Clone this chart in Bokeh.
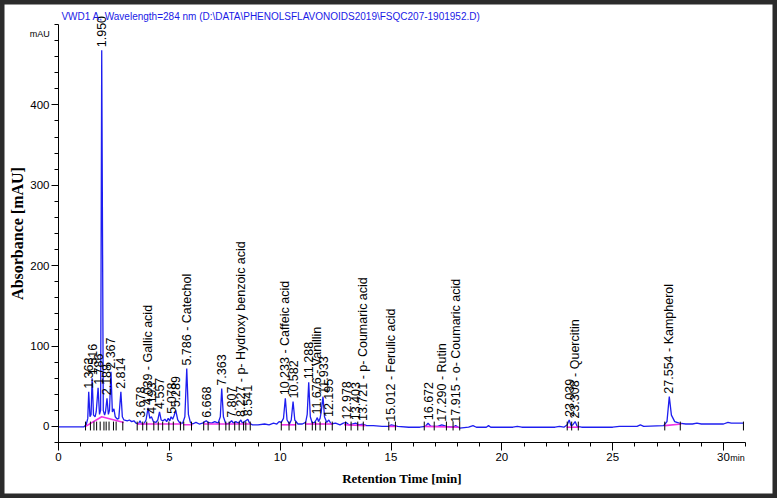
from bokeh.plotting import figure
from bokeh.models import ColumnDataSource, LabelSet, Label, FixedTicker, Range1d, LinearAxis
from bokeh.core.properties import value
from bokeh.embed import file_html
from bokeh.resources import INLINE

# ---- data ----
peak_rt = [1.363, 1.516, 1.786, 1.950, 2.188, 2.367, 2.814, 3.678, 4.039, 4.193,
           4.557, 5.078, 5.289, 5.786, 6.668, 7.363, 7.807, 8.227, 8.541, 10.233,
           10.582, 11.288, 11.676, 11.933, 12.195, 12.978, 13.403, 13.721, 15.012,
           16.672, 17.290, 17.915, 23.039, 23.308, 27.554]
peak_height = [43, 60, 48, 468, 35, 68, 43, 7, 23, 12,
               18, 12, 20, 72, 7, 47, 7, 8, 9, 35,
               31, 55, 11, 37, 8, 5, 4, 3, 2,
               4, 2, 1, 8, 6, 37]
peak_name = ["", "", "", "", "", "", "", "", "Gallic acid", "",
             "", "", "", "Catechol", "", "", "", "p- Hydroxy benzoic acid", "", "Caffeic acid",
             "", "", "Vanillin", "", "", "", "", "p- Coumaric acid", "Ferulic acid",
             "", "Rutin", "o- Coumaric acid", "", "Quercitin", "Kampherol"]

# trace points between the apexes (valleys, shoulders, noise)
valley_t = [0.0, 1.15, 1.25, 1.32, 1.42, 1.47, 1.58, 1.65, 1.70, 1.85, 1.90, 2.02, 2.08, 2.12,
            2.25, 2.30, 2.43, 2.50, 2.56, 2.65, 2.72, 2.88, 2.95, 3.1, 3.2, 3.3, 3.4, 3.5,
            3.6, 3.75, 3.85, 3.95, 4.12, 4.28, 4.40, 4.48, 4.63, 4.72, 4.80, 4.88, 4.95,
            5.02, 5.15, 5.22, 5.38, 5.48, 5.60, 5.70, 5.86, 5.95, 6.05, 6.2, 6.35, 6.5,
            6.6, 6.75, 6.9, 7.05, 7.2, 7.3, 7.44, 7.55, 7.7, 7.9, 8.0, 8.12, 8.3, 8.40,
            8.62, 8.75, 9.0, 9.3, 9.5, 9.7, 9.85, 9.95, 10.05, 10.15, 10.31, 10.42, 10.5,
            10.66, 10.8, 11.0, 11.15, 11.22, 11.36, 11.45, 11.55, 11.62, 11.73, 11.8,
            11.85, 12.0, 12.1, 12.3, 12.5, 12.7, 12.85, 13.1, 13.25, 13.55, 13.9, 14.2,
            14.6, 14.9, 15.3, 15.8, 16.3, 16.55, 16.8, 17.1, 17.5, 17.8, 18.1, 18.5,
            18.7, 18.85, 19.3, 19.4, 19.5, 20.5, 20.7, 20.9, 22.4, 22.6, 22.8, 22.95,
            23.12, 23.2, 23.4, 23.6, 25.0, 25.3, 26.1, 26.25, 26.4, 27.3, 27.45, 27.65,
            27.8, 28.0, 28.3, 28.6, 28.8, 29.0, 30.0, 30.2, 30.35, 30.9]
valley_y = [-0.5, -0.5, 2, 10, 12, 15, 14, 12, 18, 15, 20, 20, 14, 18,
            15, 20, 18, 22, 12, 9, 10, 12, 8, 7, 8, 6, 7, 4,
            3, 3, 3, 8, 10, 6, 5, 8, 8, 7, 9, 6, 10,
            7, 9, 14, 8, 4, 4, 12, 15, 5, 3, 5, 3, 4,
            6, 5, 4, 6, 4, 12, 12, 3, 4, 4, 6, 4, 4, 6,
            4, 2, 2, 3, 2, 4, 3, 6, 5, 10, 8, 3, 8,
            8, 3, 3, 5, 15, 12, 4, 5, 8, 6, 10,
            18, 12, 5, 3, 4, 2, 4, 2, 3, 2, 1, 1,
            0, 0, 0, -1, -1, 0, 0, 0, 0, -1, -2, -1,
            1, -1, -1, 1, -1, -1, 0, -1, -1, 0, -1, 2,
            1, 2, 0, -1, -1, 0, 0, 2, 0, 1, 6, 14,
            6, 4, 3, 3, 4, 3, 3, 5, 4, 4]

# integration baselines (magenta)
base_t = [[1.22, 1.95, 2.95], [3.55, 5.55], [5.62, 6.05], [6.55, 8.68], [10.05, 10.72],
          [11.12, 12.35], [12.88, 13.85], [14.9, 15.25], [16.5, 18.05], [22.92, 23.5],
          [27.35, 28.1]]
base_y = [[0, 12, 5], [3, 3], [2, 2], [3, 3], [2, 2], [3, 3], [2, 1], [0, 0], [0, -1],
          [-1, -1], [1, 3]]

# integration event marks
event_t = [1.22, 1.44, 1.60, 1.72, 1.88, 2.05, 2.15, 2.28, 2.48, 2.60, 2.90, 3.55, 3.80,
           3.98, 4.30, 4.50, 4.70, 4.98, 5.18, 5.50, 5.65, 6.00, 6.55, 6.75, 7.25, 7.55,
           7.70, 7.95, 8.15, 8.35, 8.45, 8.65, 10.05, 10.40, 10.70, 11.15, 11.45, 11.60,
           11.80, 12.05, 12.35, 12.95, 13.20, 13.50, 13.75, 14.90, 15.20, 16.50, 16.95,
           17.50, 17.80, 18.10, 22.95, 23.15, 23.45, 27.35, 28.05, 30.90]

x_major = [0, 5, 10, 15, 20, 25, 30]
x_minor = list(range(0, 32))
y_major = [0, 100, 200, 300, 400]
y_minor = list(range(-20, 501, 20))

title_text = "VWD1 A, Wavelength=284 nm (D:\\DATA\\PHENOLSFLAVONOIDS2019\\FSQC207-1901952.D)"

# ---- build ----
pts = sorted(list(zip(valley_t, valley_y)) + list(zip(peak_rt, peak_height)))
trace_t = [a for a, b in pts]
trace_y = [b for a, b in pts]

labels = [("%.3f" % rt) + ((" -  " + nm) if nm else "") for rt, nm in zip(peak_rt, peak_name)]

SANS = "Liberation Sans"
SERIF = "Liberation Serif"

W, H = 777, 498
X0_PX, X30_PX = 58.0, 723.0          # pixel position of 0 and 30 min
Y500_PX, YM20_PX = 24.0, 442.0       # pixel position of 500 and -20 mAU
xs = (X30_PX - X0_PX) / 30.0
ys = (YM20_PX - Y500_PX) / 520.0
x_rng = Range1d(-X0_PX / xs, (W - X0_PX) / xs)
y_rng = Range1d(-20 - (H - YM20_PX) / ys, 500 + Y500_PX / ys)

p = figure(width=W, height=H, output_backend="svg", toolbar_location=None,
           x_range=x_rng, y_range=y_rng, min_border=0,
           x_axis_location=None, y_axis_location=None)
p.outline_line_color = "#2b2b2b"
p.outline_line_width = 8
for g in p.grid:
    g.grid_line_color = None
p.background_fill_color = "white"
p.border_fill_color = "white"

p.line(trace_t, trace_y, line_color="#1e1ef0", line_width=1.3)
p.multi_line(base_t, base_y, line_color="#f032e6", line_width=1.6)
p.segment(x0=event_t, y0=[-5] * len(event_t), x1=event_t, y1=[6] * len(event_t),
          line_color="black", line_width=1)

src = ColumnDataSource(dict(x=peak_rt, y=peak_height, text=labels))
p.add_layout(LabelSet(x="x", y="y", text="text", source=src, angle=90, angle_units="deg",
                      text_align="left", text_baseline="middle", y_offset=3,
                      text_font=value(SANS), text_font_size=value("12.5px"),
                      text_color=value("black")))

xax = LinearAxis(fixed_location=-20, bounds=(0, 31),
                 ticker=FixedTicker(ticks=x_major, minor_ticks=x_minor),
                 axis_label="Retention Time [min]")
yax = LinearAxis(fixed_location=0, bounds=(-20, 500),
                 ticker=FixedTicker(ticks=y_major, minor_ticks=y_minor),
                 axis_label="Absorbance [mAU]")
for ax in (xax, yax):
    ax.major_tick_in = 0
    ax.minor_tick_in = 0
    ax.axis_line_color = "black"
    ax.major_tick_line_color = "black"
    ax.minor_tick_line_color = "black"
    ax.major_label_text_font = SANS
    ax.major_label_text_font_size = "11.5px"
    ax.major_label_text_color = "black"
    ax.axis_label_text_font = SERIF
    ax.axis_label_text_font_style = "bold"
    ax.axis_label_text_color = "black"
xax.major_tick_out = 8
xax.minor_tick_out = 4
yax.major_tick_out = 7
yax.minor_tick_out = 4
xax.major_label_standoff = 2
yax.major_label_standoff = 2
xax.axis_label_text_font_size = "13px"
yax.axis_label_text_font_size = "16px"
xax.axis_label_standoff = 7
yax.axis_label_standoff = 1
p.add_layout(xax, "below")
p.add_layout(yax, "left")

p.add_layout(Label(x=0.13, y=510.5, text=title_text, text_font=SANS, text_font_size="10px",
                   text_color="#1a1ae6", text_align="left", text_baseline="middle"))
p.add_layout(Label(x=-0.4, y=488, text="mAU", text_font=SANS, text_font_size="9px",
                   text_color="black", text_align="right", text_baseline="middle"))
p.add_layout(Label(x=30.3, y=-39.5, text="min", text_font=SANS, text_font_size="9px",
                   text_color="black", text_align="left", text_baseline="middle"))

open("out.html", "w").write(file_html(p, INLINE))
